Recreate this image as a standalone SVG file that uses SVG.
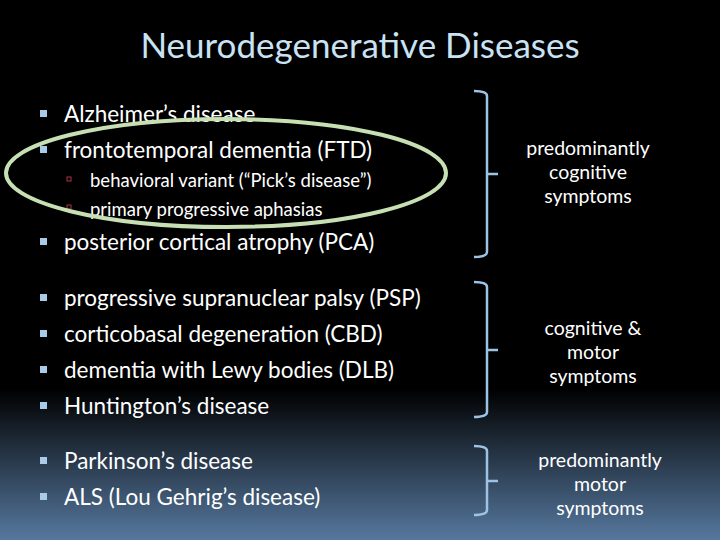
<svg xmlns="http://www.w3.org/2000/svg" width="720" height="540" viewBox="0 0 720 540">
<defs>
<linearGradient id="bg" x1="0" y1="0" x2="0" y2="1">
<stop offset="0" stop-color="#000"/><stop offset="0.72" stop-color="#000"/><stop offset="1" stop-color="#56789e"/>
</linearGradient>
<style>
text{font-family:Lato,"Open Sans",sans-serif;fill:#fff}
.b{font-size:22.5px}
.s{font-size:18.5px}
.r{font-size:19.5px;text-anchor:middle}
.bul{fill:#a9cbe8}
.sb{fill:none;stroke:#b03040;stroke-width:1}
.br{fill:none;stroke:#9cc3e5;stroke-width:2.5}
</style>
</defs>
<rect width="720" height="540" fill="url(#bg)"/>
<text x="360" y="58" text-anchor="middle" font-size="35" style="fill:#c9e3f5">Neurodegenerative Diseases</text>
<g id="list">
<rect class="bul" x="40" y="110" width="7" height="7"/><text class="b" x="64" y="122">Alzheimer’s disease</text>
<rect class="bul" x="40" y="146" width="7" height="7"/><text class="b" x="64" y="158">frontotemporal dementia (FTD)</text>
<rect class="sb" x="67" y="177" width="4" height="4"/><text class="s" x="90" y="187">behavioral variant (“Pick’s disease”)</text>
<rect class="sb" x="67" y="205" width="4" height="4"/><text class="s" x="90" y="216">primary progressive aphasias</text>
<rect class="bul" x="40" y="238" width="7" height="7"/><text class="b" x="64" y="250">posterior cortical atrophy (PCA)</text>
<rect class="bul" x="40" y="294" width="7" height="7"/><text class="b" x="64" y="306">progressive supranuclear palsy (PSP)</text>
<rect class="bul" x="40" y="330" width="7" height="7"/><text class="b" x="64" y="342">corticobasal degeneration (CBD)</text>
<rect class="bul" x="40" y="366" width="7" height="7"/><text class="b" x="64" y="378">dementia with Lewy bodies (DLB)</text>
<rect class="bul" x="40" y="402" width="7" height="7"/><text class="b" x="64" y="414">Huntington’s disease</text>
<rect class="bul" x="40" y="457" width="7" height="7"/><text class="b" x="64" y="469">Parkinson’s disease</text>
<rect class="bul" x="40" y="493" width="7" height="7"/><text class="b" x="64" y="505">ALS (Lou Gehrig’s disease)</text>
</g>
<ellipse id="circle" cx="226" cy="173" rx="220" ry="54" fill="none" stroke="#c6e0b4" stroke-width="4"/>
<g id="connectors">
<path class="br" d="M474,91 Q487,91 487,96 L487,252 Q487,257 474,257 M487,174 L498,174"/>
<path class="br" d="M474,282 Q487,282 487,287 L487,412 Q487,417 474,417 M487,350 L498,350"/>
<path class="br" d="M474,446 Q487,446 487,451 L487,510 Q487,515 474,515 M487,481 L498,481"/>
</g>
<g id="g1"><text class="r" x="588" y="155">predominantly</text><text class="r" x="588" y="179">cognitive</text><text class="r" x="588" y="203">symptoms</text></g>
<g id="g2"><text class="r" x="593" y="335">cognitive &amp;</text><text class="r" x="593" y="359">motor</text><text class="r" x="593" y="383">symptoms</text></g>
<g id="g3"><text class="r" x="600" y="467">predominantly</text><text class="r" x="600" y="491">motor</text><text class="r" x="600" y="515">symptoms</text></g>
</svg>
